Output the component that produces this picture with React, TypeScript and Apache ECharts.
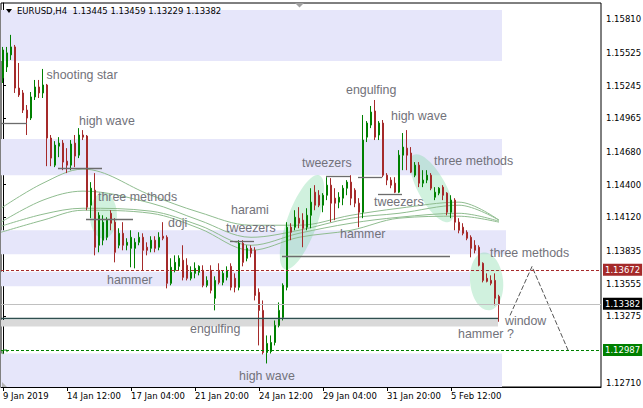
import React, { useEffect, useRef } from "react";
import * as echarts from "echarts";

// ---------- data ----------
const symbolName = "EURUSD,H4";
const dateTicks = ["9 Jan 2019", "14 Jan 12:00", "17 Jan 04:00", "21 Jan 20:00", "24 Jan 12:00", "29 Jan 04:00", "31 Jan 20:00", "5 Feb 12:00"];
const barsPerTick = 16;
const slotCount = 150;

const opens = [
  1.15310, 1.15404, 1.15507, 1.15575, 1.15224, 1.15182, 1.15036, 1.14968, 1.15148, 1.15233,
  1.15182, 1.15250, 1.14797, 1.14566, 1.14728, 1.14754, 1.14600, 1.14566, 1.14754, 1.14651,
  1.14823, 1.14814, 1.14224, 1.14352, 1.13882, 1.13925, 1.13950, 1.14155, 1.14079, 1.13882,
  1.13984, 1.13882, 1.13856, 1.13856, 1.13907, 1.13950, 1.13865, 1.13856, 1.13925, 1.13865,
  1.13959, 1.13950, 1.13557, 1.13668, 1.13702, 1.13754, 1.13711, 1.13600, 1.13642, 1.13651,
  1.13668, 1.13540, 1.13668, 1.13429, 1.13668, 1.13565, 1.13608, 1.13702, 1.13600, 1.13523,
  1.13899, 1.13771, 1.13856, 1.13839, 1.13480, 1.13326, 1.12967, 1.12975, 1.13052, 1.13198,
  1.13266, 1.13523, 1.14036, 1.14036, 1.14113, 1.14096, 1.14036, 1.14138, 1.14335, 1.14309,
  1.14224, 1.14309, 1.14395, 1.14284, 1.14250, 1.14284, 1.14369, 1.14421, 1.14352, 1.14241,
  1.14164, 1.14805, 1.14908, 1.15028, 1.14823, 1.14925, 1.14480, 1.14438, 1.14412, 1.14335,
  1.14651, 1.14711, 1.14669, 1.14480, 1.14566, 1.14412, 1.14438, 1.14480, 1.14292, 1.14327,
  1.14378, 1.14327, 1.14164, 1.14267, 1.14079, 1.14036, 1.13993, 1.13950, 1.13882, 1.13865,
  1.13728, 1.13600, 1.13582, 1.13582, 1.13445,
];
const closes = [
  1.15549, 1.15524, 1.15575, 1.15224, 1.15165, 1.15036, 1.14968, 1.15148, 1.15233, 1.15182,
  1.15250, 1.14797, 1.14626, 1.14737, 1.14754, 1.14592, 1.14566, 1.14746, 1.14643, 1.14823,
  1.14805, 1.14207, 1.14369, 1.13865, 1.14138, 1.14079, 1.14096, 1.14070, 1.13822, 1.13984,
  1.13882, 1.13907, 1.13950, 1.13907, 1.13950, 1.13839, 1.13839, 1.13925, 1.13856, 1.13950,
  1.13942, 1.13557, 1.13694, 1.13736, 1.13771, 1.13608, 1.13600, 1.13651, 1.13685, 1.13702,
  1.13540, 1.13582, 1.13497, 1.13582, 1.13565, 1.13642, 1.13668, 1.13523, 1.13523, 1.13899,
  1.13736, 1.13856, 1.13813, 1.13454, 1.13326, 1.12967, 1.13044, 1.13052, 1.13198, 1.13326,
  1.13540, 1.14036, 1.13993, 1.14121, 1.14070, 1.14027, 1.14138, 1.14250, 1.14224, 1.14224,
  1.14309, 1.14395, 1.14241, 1.14241, 1.14292, 1.14369, 1.14421, 1.14284, 1.14241, 1.14164,
  1.14780, 1.14925, 1.15019, 1.14805, 1.14925, 1.14480, 1.14438, 1.14395, 1.14335, 1.14651,
  1.14720, 1.14651, 1.14506, 1.14566, 1.14412, 1.14438, 1.14480, 1.14369, 1.14335, 1.14369,
  1.14309, 1.14164, 1.14267, 1.14079, 1.14010, 1.13984, 1.13942, 1.13856, 1.13839, 1.13711,
  1.13582, 1.13574, 1.13557, 1.13429, 1.13382,
];
const highs = [
  1.15575, 1.15575, 1.15678, 1.15592, 1.15438, 1.15207, 1.15079, 1.15190, 1.15293, 1.15293,
  1.15387, 1.15259, 1.14823, 1.14771, 1.14805, 1.14780, 1.14711, 1.14780, 1.14823, 1.14882,
  1.14865, 1.14823, 1.14421, 1.14498, 1.14164, 1.14138, 1.14121, 1.14181, 1.14113, 1.14027,
  1.14079, 1.13942, 1.14010, 1.13942, 1.13993, 1.13984, 1.13907, 1.13959, 1.13959, 1.13993,
  1.14079, 1.13967, 1.13771, 1.13796, 1.13796, 1.13882, 1.13771, 1.13702, 1.13736, 1.13711,
  1.13711, 1.13617, 1.13711, 1.13617, 1.13728, 1.13668, 1.13702, 1.13728, 1.13642, 1.13925,
  1.13925, 1.13882, 1.13882, 1.13865, 1.13514, 1.13411, 1.13112, 1.13112, 1.13240, 1.13394,
  1.13557, 1.14079, 1.14070, 1.14181, 1.14207, 1.14155, 1.14198, 1.14369, 1.14395, 1.14352,
  1.14327, 1.14463, 1.14455, 1.14369, 1.14335, 1.14395, 1.14438, 1.14480, 1.14369, 1.14284,
  1.14994, 1.14942, 1.15071, 1.15122, 1.14942, 1.14951, 1.14498, 1.14463, 1.14463, 1.14694,
  1.14840, 1.14865, 1.14720, 1.14592, 1.14592, 1.14523, 1.14523, 1.14498, 1.14378, 1.14378,
  1.14395, 1.14335, 1.14309, 1.14284, 1.14113, 1.14070, 1.14010, 1.13967, 1.13925, 1.13882,
  1.13736, 1.13642, 1.13625, 1.13642, 1.13459,
];
const lows = [
  1.15267, 1.15361, 1.15464, 1.15182, 1.15148, 1.15011, 1.14823, 1.14951, 1.15122, 1.15139,
  1.15139, 1.14557, 1.14557, 1.14549, 1.14634, 1.14523, 1.14498, 1.14523, 1.14549, 1.14626,
  1.14780, 1.14181, 1.14113, 1.13796, 1.13822, 1.13882, 1.13925, 1.14010, 1.13736, 1.13856,
  1.13839, 1.13839, 1.13694, 1.13685, 1.13882, 1.13668, 1.13796, 1.13822, 1.13822, 1.13839,
  1.13925, 1.13514, 1.13540, 1.13651, 1.13668, 1.13582, 1.13582, 1.13582, 1.13600, 1.13625,
  1.13523, 1.13523, 1.13471, 1.13326, 1.13548, 1.13540, 1.13582, 1.13497, 1.13480, 1.13497,
  1.13702, 1.13745, 1.13779, 1.13411, 1.13027, 1.12950, 1.12873, 1.12958, 1.13027, 1.13181,
  1.13240, 1.13497, 1.13925, 1.14010, 1.14027, 1.13865, 1.14010, 1.14027, 1.14181, 1.14207,
  1.14164, 1.14267, 1.14079, 1.14096, 1.14198, 1.14224, 1.14309, 1.14224, 1.14207, 1.14036,
  1.14113, 1.14763, 1.14882, 1.14780, 1.14780, 1.14463, 1.14395, 1.14369, 1.14327, 1.14327,
  1.14523, 1.14523, 1.14498, 1.14463, 1.14378, 1.14378, 1.14412, 1.14352, 1.14267, 1.14309,
  1.14267, 1.14138, 1.14113, 1.14010, 1.13984, 1.13967, 1.13925, 1.13779, 1.13813, 1.13702,
  1.13565, 1.13565, 1.13540, 1.13369, 1.13229,
];

const priceTicks = [1.15810, 1.15525, 1.15245, 1.14965, 1.14680, 1.14400, 1.14120, 1.13835, 1.13555, 1.13275, 1.12710];
const priceMin = 1.12672;
const priceMax = 1.1595;
const askLevel = 1.13672;
const bidLevel = 1.13382;
const targetLevel = 1.12987;

// moving averages sampled along the bars: [bar position, price]
const maA = [[-0.5, 1.14198], [10, 1.14412], [20, 1.14532], [37, 1.14309], [49, 1.14164], [62, 1.14053], [74, 1.14053], [87, 1.14138], [99, 1.14198], [114, 1.1425], [124, 1.14096]];
const maB = [[-0.5, 1.14079], [10, 1.14267], [20, 1.14344], [37, 1.14241], [49, 1.14096], [62, 1.1395], [74, 1.1401], [87, 1.14113], [99, 1.14155], [114, 1.14224], [124, 1.14096]];
const maC = [[-0.5, 1.14044], [10, 1.14147], [20, 1.14198], [37, 1.14173], [49, 1.14053], [62, 1.13882], [74, 1.13984], [87, 1.1407], [99, 1.14121], [114, 1.14155], [124, 1.14087]];
const maD = [[-0.5, 1.13993], [10, 1.14096], [20, 1.14181], [37, 1.14155], [49, 1.14027], [62, 1.13839], [74, 1.1395], [87, 1.1401], [99, 1.14113], [114, 1.1413], [124, 1.14079]];

// projected path
const projection = [[126.75, 1.13283], [132.25, 1.137], [141.25, 1.12987]];

// zones: [fromBar, topPrice, toBar, bottomPrice]
const zones = [
  [-0.5, 1.15891, 124.75, 1.15455],
  [-0.5, 1.14788, 124.75, 1.1448],
  [-0.5, 1.1401, 125.75, 1.13805],
  [-0.5, 1.13655, 116.75, 1.13531],
  [-0.5, 1.12958, 124.75, 1.12672],
];
const grayZone = [-0.5, 1.13245, 123.75, 1.13189];
const grayZoneEdge = [-0.5, 1.13255, 123.75];

// horizontal pattern levels: [fromBar, toBar, price]
const levels = [
  [-0.5, 6, 1.14925],
  [13.75, 24.75, 1.1454],
  [20.75, 32.5, 1.14104],
  [56.75, 62.75, 1.13916],
  [69.75, 111.75, 1.13788],
  [80.75, 86.75, 1.14472],
  [88.75, 94.75, 1.14463],
  [93.75, 99.75, 1.14318],
];

// pattern notes: [text, bar, price]
const notes: [string, number, number][] = [
  ["shooting star", 10.9, 1.15336],
  ["high wave", 19, 1.14942],
  ["three methods", 23.75, 1.14292],
  ["doji", 41.25, 1.14074],
  ["harami", 57, 1.14181],
  ["tweezers", 55.75, 1.14027],
  ["hammer", 26, 1.13582],
  ["engulfing", 46.75, 1.13163],
  ["high wave", 59, 1.1277],
  ["tweezers", 74.75, 1.14588],
  ["engulfing", 85.75, 1.15207],
  ["high wave", 97, 1.14985],
  ["three methods", 107.75, 1.146],
  ["tweezers", 92.75, 1.1425],
  ["hammer", 84.25, 1.13976],
  ["three methods", 121.75, 1.13813],
  ["window", 125.5, 1.13232],
  ["hammer ?", 113.75, 1.13125],
];

// highlighted pattern areas: [bar, price, rx, ry, rotation]
const highlights = [
  [25.1, 1.14136, 13.5, 23, 0],
  [74.75, 1.14079, 15, 50, -0.35],
  [107.25, 1.14369, 14, 38, 0.5],
  [120.9, 1.13574, 16.5, 29, 0.1],
];

// ---------- component ----------
export default function App() {
  const ref = useRef<HTMLDivElement>(null);

  useEffect(() => {
    document.body.style.margin = "0";
    const chart = echarts.init(ref.current!, null, { renderer: "svg" });
    const slots = Array.from({ length: slotCount }, (_, i) => String(i));
    const candles = opens.map((o, i) => [o, closes[i], lows[i], highs[i]]);
    const axisFont = { fontFamily: "DejaVu Sans", fontSize: 8.5, color: "#000" };
    const tickShown = (i: number) => i % barsPerTick === 0 && i / barsPerTick < dateTicks.length;
    const priceLabel = (bg: string, v: number) => ({
      show: true,
      position: "end",
      distance: 2,
      formatter: v.toFixed(5),
      color: "#fff",
      backgroundColor: bg,
      padding: [2, 2, 1, 2],
      fontSize: 8.5,
      fontFamily: "DejaVu Sans",
    });

    const maSeries = [maA, maB, maC, maD].map((d) => ({
      type: "line",
      xAxisIndex: 1,
      yAxisIndex: 0,
      data: d,
      smooth: 0.35,
      symbol: "none",
      silent: true,
      z: 2,
      lineStyle: { color: "#8fbc8f", width: 1 },
    }));

    const option: any = {
      animation: false,
      textStyle: { fontFamily: "DejaVu Sans" },
      grid: { left: 1, right: 42, top: 3, bottom: 21, show: true, borderColor: "#000", borderWidth: 1, outerBoundsMode: "none", containLabel: false },
      xAxis: [
        {
          type: "category",
          data: slots,
          boundaryGap: true,
          axisLine: { show: true, lineStyle: { color: "#000", width: 1 } },
          axisTick: { show: true, alignWithLabel: true, length: 4, interval: (i: number) => tickShown(i), lineStyle: { color: "#000" } },
          axisLabel: {
            ...axisFont,
            interval: (i: number) => tickShown(i),
            align: "left",
            margin: 4,
            formatter: (_v: string, i: number) => (tickShown(i) ? dateTicks[i / barsPerTick] : ""),
          },
          splitLine: { show: false },
        },
        { type: "value", min: -0.5, max: slotCount - 0.5, show: false },
      ],
      yAxis: {
        type: "value",
        position: "right",
        min: priceMin,
        max: priceMax,
        axisLine: { show: true, lineStyle: { color: "#000", width: 1 } },
        axisTick: { show: true, length: 3, customValues: priceTicks, lineStyle: { color: "#000" } },
        axisLabel: { ...axisFont, margin: 5, customValues: priceTicks, formatter: (v: number) => v.toFixed(5) },
        splitLine: { show: false },
      },
      series: [
        {
          type: "line",
          xAxisIndex: 1,
          yAxisIndex: 0,
          data: [],
          silent: true,
          markArea: {
            silent: true,
            z: 1,
            data: [
              ...zones.map((z) => [
                { coord: [z[0], z[1]], itemStyle: { color: "#e6e6fa" } },
                { coord: [z[2], z[3]] },
              ]),
              [
                { coord: [grayZone[0], grayZone[1]], itemStyle: { color: "#d9d9d9" } },
                { coord: [grayZone[2], grayZone[3]] },
              ],
            ],
          },
          markLine: {
            silent: true,
            precision: 5,
            symbol: ["none", "none"],
            label: { show: false },
            data: [
              ...levels.map((l) => [
                { coord: [l[0], l[2]], lineStyle: { color: "#6c6c6c", width: 1.3, type: "solid" } },
                { coord: [l[1], l[2]] },
              ]),
              [
                { coord: [grayZoneEdge[0], grayZoneEdge[1]], lineStyle: { color: "#2f4f4f", width: 1.3, type: "solid" } },
                { coord: [grayZoneEdge[2], grayZoneEdge[1]] },
              ],
            ],
          },
        },
        ...maSeries,
        {
          type: "candlestick",
          xAxisIndex: 0,
          yAxisIndex: 0,
          data: candles,
          barWidth: 2,
          z: 3,
          itemStyle: { color: "#008000", color0: "#a52a2a", borderColor: "#008000", borderColor0: "#a52a2a", borderWidth: 1 },
        },
        {
          type: "line",
          xAxisIndex: 1,
          yAxisIndex: 0,
          data: projection,
          symbol: "none",
          silent: true,
          z: 4,
          lineStyle: { color: "#555", width: 1, type: [5, 2] },
        },
        {
          type: "line",
          xAxisIndex: 1,
          yAxisIndex: 0,
          data: [],
          silent: true,
          markLine: {
            silent: true,
            precision: 5,
            symbol: ["none", "none"],
            data: [
              { yAxis: bidLevel, lineStyle: { color: "#c0c0c0", width: 1, type: "solid" }, label: priceLabel("#000", bidLevel) },
              { yAxis: askLevel, lineStyle: { color: "#a52a2a", width: 1, type: [3, 2] }, label: priceLabel("#a52a2a", askLevel) },
              { yAxis: targetLevel, lineStyle: { color: "#008000", width: 1, type: [3, 2] }, label: priceLabel("#008000", targetLevel) },
            ],
          },
        },
      ],
    };
    chart.setOption(option);

    const px = (v: number, p: number) => chart.convertToPixel({ xAxisIndex: 1, yAxisIndex: 0 }, [v, p]) as number[];
    const last = opens.length - 1;
    const header = `${symbolName}  ${opens[last].toFixed(5)} ${highs[last].toFixed(5)} ${lows[last].toFixed(5)} ${closes[last].toFixed(5)}`;
    const g: any[] = [];
    highlights.forEach((h) => {
      const [x, y] = px(h[0], h[1]);
      g.push({ type: "ellipse", x, y, rotation: h[4], shape: { cx: 0, cy: 0, rx: h[2], ry: h[3] }, style: { fill: "rgba(120,215,160,0.35)" }, z: 1.5, silent: true });
    });
    notes.forEach(([text, v, p]) => {
      const [x, y] = px(v, p);
      g.push({ type: "text", x, y, z: 10, silent: true, style: { text, fill: "#72727a", fontSize: 12.4, fontFamily: "'Liberation Sans', Arial, sans-serif", verticalAlign: "middle", align: "left" } });
    });
    const [tx, ty] = px(-0.5, targetLevel);
    g.push({ type: "polyline", shape: { points: [[tx + 2, ty + 4], [tx + 2, ty], [tx + 6, ty], [tx + 6, ty + 2]] }, style: { stroke: "#008000", fill: null, lineWidth: 1 }, z: 6, silent: true });
    g.push({ type: "polygon", shape: { points: [[6, 9], [12, 9], [9, 13]] }, style: { fill: "#000" }, z: 10, silent: true });
    g.push({ type: "text", x: 17, y: 11, z: 10, silent: true, style: { text: header, fill: "#000", fontSize: 8.5, fontFamily: "DejaVu Sans", verticalAlign: "middle" } });
    g.push({ type: "polygon", shape: { points: [[295, 3], [304, 3], [299.5, 7.5]] }, style: { fill: "#a0a0a0" }, z: 10, silent: true });
    g.push({ type: "polygon", shape: { points: [[2, 382], [2, 387], [7, 387]] }, style: { fill: "#b4b4b4" }, z: 10, silent: true });
    chart.setOption({ graphic: g });

    return () => chart.dispose();
  }, []);

  return <div ref={ref} style={{ width: 643, height: 408 }} />;
}
